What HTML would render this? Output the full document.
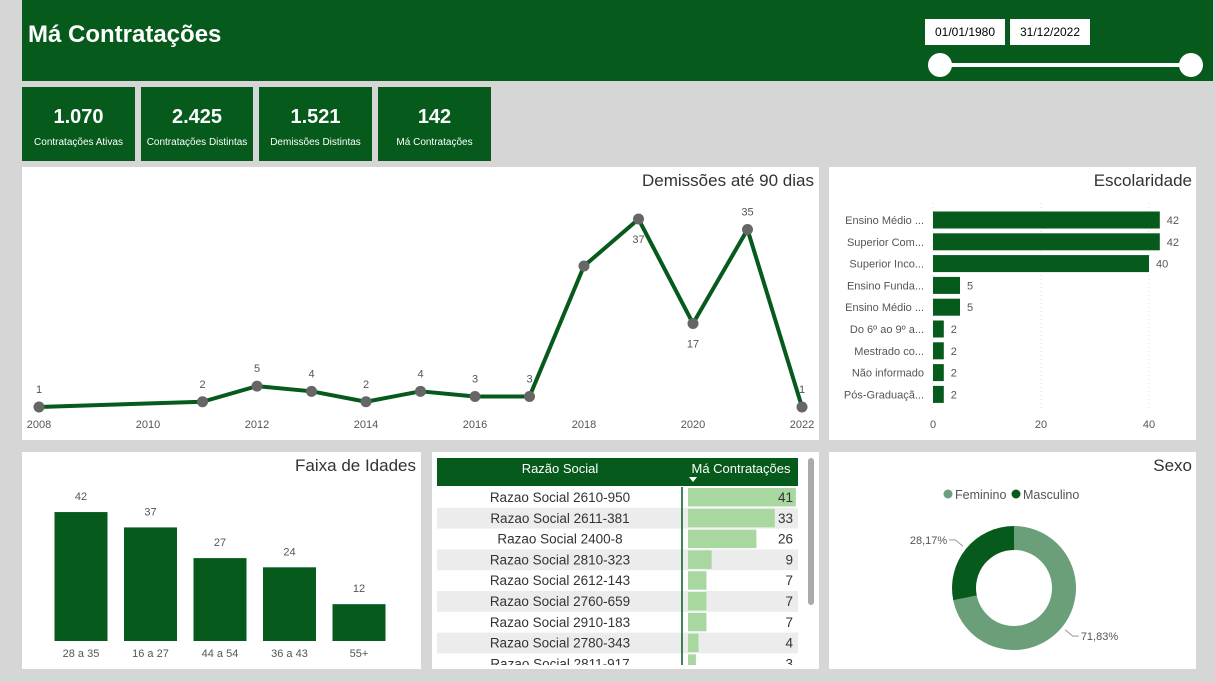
<!DOCTYPE html>
<html><head><meta charset="utf-8"><style>
body{margin:0;width:1215px;height:682px;background:#d6d6d6;font-family:"Liberation Sans",sans-serif;overflow:hidden;position:relative}
.abs{position:absolute}
.panel{position:absolute;background:#fff}
.kpi{position:absolute;top:87px;height:74px;background:#055a1c;color:#fff;text-align:center}
.kpi .v{font-size:20px;font-weight:bold;margin-top:19px}
.kpi .l{font-size:10px;margin-top:8px}
.title{position:absolute;font-size:17px;color:#333}
svg text{font-family:"Liberation Sans",sans-serif}
</style></head><body>
<div class="abs" style="left:22px;top:0;width:1191px;height:81px;background:#055a1c"></div>
<div class="abs" style="left:28px;top:21px;color:#fff;font-size:24px;font-weight:bold">Má Contratações</div>
<div class="abs" style="left:925px;top:19px;width:80px;height:26px;background:#fff;font-size:12px;line-height:26px;text-align:center">01/01/1980</div>
<div class="abs" style="left:1010px;top:19px;width:80px;height:26px;background:#fff;font-size:12px;line-height:26px;text-align:center">31/12/2022</div>
<div class="abs" style="left:940px;top:63px;width:251px;height:4px;background:#fff"></div>
<div class="abs" style="left:928px;top:53px;width:24px;height:24px;border-radius:50%;background:#fff"></div>
<div class="abs" style="left:1179px;top:53px;width:24px;height:24px;border-radius:50%;background:#fff"></div>

<div class="kpi" style="left:22px;width:113px"><div class="v">1.070</div><div class="l">Contratações Ativas</div></div>
<div class="kpi" style="left:141px;width:112px"><div class="v">2.425</div><div class="l">Contratações Distintas</div></div>
<div class="kpi" style="left:259px;width:113px"><div class="v">1.521</div><div class="l">Demissões Distintas</div></div>
<div class="kpi" style="left:378px;width:113px"><div class="v">142</div><div class="l">Má Contratações</div></div>

<div class="panel" style="left:22px;top:167px;width:797px;height:273px"></div>
<div class="title" style="right:401px;top:171px">Demissões até 90 dias</div>
<div class="panel" style="left:829px;top:167px;width:367px;height:273px"></div>
<div class="title" style="right:23px;top:171px">Escolaridade</div>
<div class="panel" style="left:22px;top:452px;width:399px;height:217px"></div>
<div class="title" style="right:799px;top:456px">Faixa de Idades</div>
<div class="panel" style="left:432px;top:452px;width:387px;height:217px"></div>
<div class="panel" style="left:829px;top:452px;width:367px;height:217px"></div>
<div class="title" style="right:23px;top:456px">Sexo</div>

<svg id="svg" class="abs" style="left:0;top:0" width="1215" height="682"></svg>

<script>
const years=[2008,2011,2012,2013,2014,2015,2016,2017,2018,2019,2020,2021,2022];
const demissoes=[1,2,5,4,2,4,3,3,28,37,17,35,1];
const showLabel=[1,1,1,1,1,1,1,1,0,1,1,1,1];
const labelBelow=[0,0,0,0,0,0,0,0,0,1,1,0,0];
const yearTicks=[2008,2010,2012,2014,2016,2018,2020,2022];

const escCats=["Ensino Médio ...","Superior Com...","Superior Inco...","Ensino Funda...","Ensino Médio ...","Do 6º ao 9º a...","Mestrado co...","Não informado","Pós-Graduaçã..."];
const escVals=[42,42,40,5,5,2,2,2,2];
const escTicks=[0,20,40];

const idadeCats=["28 a 35","16 a 27","44 a 54","36 a 43","55+"];
const idadeVals=[42,37,27,24,12];

const razao=["Razao Social 2610-950","Razao Social 2611-381","Razao Social 2400-8","Razao Social 2810-323","Razao Social 2612-143","Razao Social 2760-659","Razao Social 2910-183","Razao Social 2780-343","Razao Social 2811-917"];
const razaoVals=[41,33,26,9,7,7,7,4,3];

const sexoCats=["Feminino","Masculino"];
const sexoVals=[71.83,28.17];

const svg=document.getElementById('svg');
const NS='http://www.w3.org/2000/svg';
function mk(tag,attrs,parent){const e=document.createElementNS(NS,tag);for(const k in attrs)e.setAttribute(k,attrs[k]);(parent||svg).appendChild(e);return e;}
function txt(s,attrs){const e=mk('text',attrs);e.textContent=s;return e;}

// line chart
const lx=y=>39+(y-2008)*54.5;
const ly=v=>412.2-v*5.22;
yearTicks.forEach(y=>{const t=txt(y,{x:lx(y),y:428,'font-size':11,fill:'#555','text-anchor':'middle'});

});
const pts=years.map((y,i)=>lx(y)+','+ly(demissoes[i])).join(' ');
const pl=mk('polyline',{points:pts,fill:'none',stroke:'#055a1c','stroke-width':4,'stroke-linejoin':'round'});


years.forEach((y,i)=>{const c=mk('circle',{cx:lx(y),cy:ly(demissoes[i]),r:5.5,fill:'#666'});


if(showLabel[i]){const t=txt(demissoes[i],{x:lx(y),y:labelBelow[i]?ly(demissoes[i])+24:ly(demissoes[i])-14,'font-size':11,fill:'#555','text-anchor':'middle'});

}});

// escolaridade
const ex=v=>933+v*5.4;
escTicks.forEach(v=>{const l=mk('line',{x1:ex(v),x2:ex(v),y1:203,y2:410,stroke:'#ddd','stroke-dasharray':'1,3'});


const t=txt(v,{x:ex(v),y:428,'font-size':11,fill:'#555','text-anchor':'middle'});

});
escCats.forEach((c,i)=>{const cy=220+i*21.8;
const r=mk('rect',{x:ex(0),y:cy-8.5,width:ex(escVals[i])-ex(0),height:17,fill:'#055a1c'});


const t=txt(c,{x:924,y:cy+4,'font-size':11,fill:'#555','text-anchor':'end'});


const v=txt(escVals[i],{x:ex(escVals[i])+7,y:cy+4,'font-size':11,fill:'#555'});

});

// faixa
const fy=v=>641-v*3.07;
idadeCats.forEach((c,i)=>{const cx=81+i*69.5;
const r=mk('rect',{x:cx-26.5,y:fy(idadeVals[i]),width:53,height:641-fy(idadeVals[i]),fill:'#055a1c'});


const v=txt(idadeVals[i],{x:cx,y:fy(idadeVals[i])-12,'font-size':11,fill:'#555','text-anchor':'middle'});


const t=txt(c,{x:cx,y:657,'font-size':11,fill:'#555','text-anchor':'middle'});

});

// table
const hdr=mk('rect',{x:437,y:458,width:361,height:28,fill:'#055a1c'});


const h1=txt('Razão Social',{x:560,y:473,'font-size':13,fill:'#fff','text-anchor':'middle'});


const h2=txt('Má Contratações',{x:741,y:473,'font-size':13,fill:'#fff','text-anchor':'middle'});


const tri=mk('polygon',{points:'689,477 697,477 693,482',fill:'#fff'});


const bx=v=>v*2.63;
razao.forEach((r,i)=>{const y=487+i*20.8;
if(i%2){const bg=mk('rect',{x:437,y:y,width:361,height:20.8,fill:'#ececec'});

}
const b=mk('rect',{x:688,y:y+1,width:bx(razaoVals[i]),height:18.5,fill:'#a8d8a0'});


const t=txt(r,{x:560,y:y+15,'font-size':13.5,fill:'#333','text-anchor':'middle'});


const v=txt(razaoVals[i],{x:793,y:y+15,'font-size':13.5,fill:'#333','text-anchor':'end'});

});
const cov=mk('rect',{x:432,y:665,width:387,height:4,fill:'#fff'});


const cov2=mk('rect',{x:432,y:669,width:387,height:13,fill:'#d6d6d6'});


const dv=mk('line',{x1:682,x2:682,y1:487,y2:665,stroke:'#055a1c','stroke-width':1.5});


const sb=mk('rect',{x:808,y:458,width:6,height:147,rx:3,fill:'#aaa'});



// donut
const cx=1014,cy=588,R=62,r0=38;
const colors=['#6a9f7a','#055a1c'];
const tot=sexoVals.reduce((a,b)=>a+b,0);
let a0=0;
sexoVals.forEach((v,i)=>{const a1=a0+v/tot*2*Math.PI;
const p=(a,rr)=>[cx+rr*Math.sin(a),cy-rr*Math.cos(a)];
const [x1,y1]=p(a0,R),[x2,y2]=p(a1,R),[x3,y3]=p(a1,r0),[x4,y4]=p(a0,r0);
const lg=(a1-a0)>Math.PI?1:0;
const s=mk('path',{d:`M${x1},${y1}A${R},${R} 0 ${lg} 1 ${x2},${y2}L${x3},${y3}A${r0},${r0} 0 ${lg} 0 ${x4},${y4}Z`,fill:colors[i]});


const am=(a0+a1)/2;const [lx1,ly1]=p(am,R+4);const [lx2,ly2]=p(am,R+14);
const right=Math.sin(am)>0;
const ln=mk('polyline',{points:`${lx1},${ly1} ${lx2},${ly2} ${lx2+(right?6:-6)},${ly2}`,fill:'none',stroke:'#999'});


const t=txt(v.toFixed(2).replace('.',',')+'%',{x:lx2+(right?8:-8),y:ly2+4,'font-size':11,fill:'#555','text-anchor':right?'start':'end'});


a0=a1;});
const lgx=[948,1016];
sexoCats.forEach((c,i)=>{const d=mk('circle',{cx:lgx[i],cy:494,r:4.5,fill:colors[i]});


const t=txt(c,{x:lgx[i]+7,y:499,'font-size':12.5,fill:'#555'});

});
</script>
</body></html>
